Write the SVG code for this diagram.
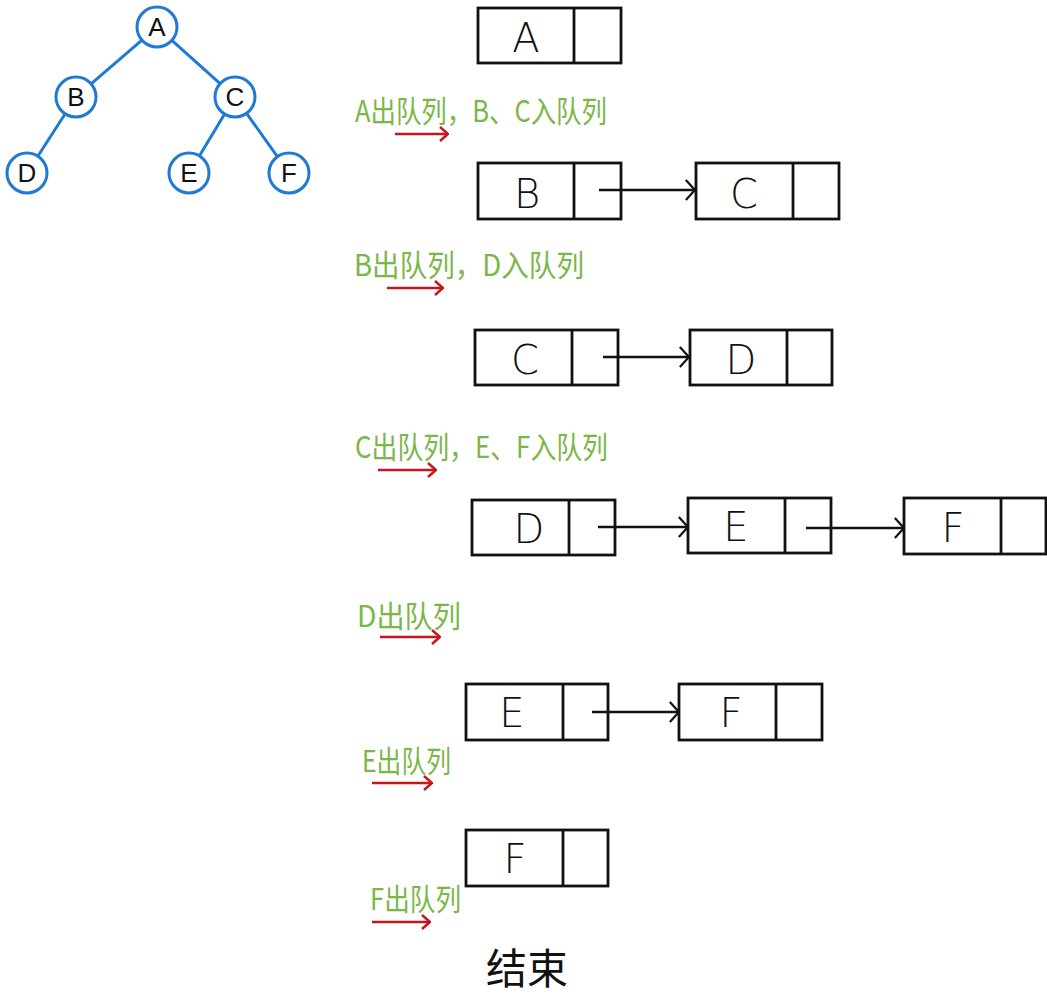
<svg xmlns="http://www.w3.org/2000/svg" width="1047" height="999" viewBox="0 0 1047 999">
<style>
.tn{fill:#fff;stroke:#1f7ad6;stroke-width:3}
.te{stroke:#1f7ad6;stroke-width:3;fill:none}
.tl{font-family:"Liberation Sans","DejaVu Sans",sans-serif;font-size:26px;fill:#111;text-anchor:middle}
.cell{fill:none;stroke:#111;stroke-width:2.8}
.bl{font-family:"DejaVu Sans","Liberation Sans",sans-serif;font-size:40px;fill:#111;text-anchor:middle;font-weight:300}
.qa{stroke:#111;stroke-width:2.4;fill:none}
.ra{stroke:#c8141c;stroke-width:2.4;fill:none}
.gl{font-family:"Noto Sans CJK SC","Noto Sans",sans-serif;font-size:30px;fill:#7ab648}
.end{font-family:"Noto Sans CJK SC","Noto Sans",sans-serif;font-size:42px;fill:#111}
</style>
<defs>
<marker id="ah" viewBox="0 0 12 24" refX="11" refY="12" markerWidth="11" markerHeight="22" markerUnits="userSpaceOnUse" orient="auto">
<path d="M1,1 L11,12 L1,23" fill="none" stroke="#111" stroke-width="2.4"/>
</marker>
<marker id="rh" viewBox="0 0 10 16" refX="9" refY="8" markerWidth="10" markerHeight="16" markerUnits="userSpaceOnUse" orient="auto">
<path d="M1,1 L9,8 L1,15" fill="none" stroke="#c8141c" stroke-width="2.4"/>
</marker>
</defs>
<rect width="1047" height="999" fill="#fff"/>

<g id="tree-A"><circle class="tn" cx="157" cy="27" r="20"/><text class="tl" x="157" y="36">A</text></g>
<g id="tree-B"><circle class="tn" cx="76" cy="97" r="20"/><text class="tl" x="76" y="106">B</text></g>
<g id="tree-C"><circle class="tn" cx="235" cy="97" r="20"/><text class="tl" x="235" y="106">C</text></g>
<g id="tree-D"><circle class="tn" cx="27" cy="173" r="20"/><text class="tl" x="27" y="182">D</text></g>
<g id="tree-E"><circle class="tn" cx="189" cy="173" r="20"/><text class="tl" x="189" y="182">E</text></g>
<g id="tree-F"><circle class="tn" cx="289" cy="173" r="20"/><text class="tl" x="289" y="182">F</text></g>

<g id="q1-A"><rect class="cell" x="478" y="8" width="143" height="55"/><line class="cell" x1="574" y1="8" x2="574" y2="63"/><text class="bl" x="526" y="52">A</text></g>

<g id="q2-B"><rect class="cell" x="478" y="163" width="143" height="56"/><line class="cell" x1="574" y1="163" x2="574" y2="219"/><text class="bl" x="527" y="208">B</text></g>
<g id="q2-C"><rect class="cell" x="696" y="163" width="143" height="56"/><line class="cell" x1="793" y1="163" x2="793" y2="219"/><text class="bl" x="744" y="208">C</text></g>

<g id="q3-C"><rect class="cell" x="475" y="330" width="143" height="55"/><line class="cell" x1="572" y1="330" x2="572" y2="385"/><text class="bl" x="525" y="374">C</text></g>
<g id="q3-D"><rect class="cell" x="690" y="330" width="142" height="55"/><line class="cell" x1="787" y1="330" x2="787" y2="385"/><text class="bl" x="741" y="374">D</text></g>

<g id="q4-D"><rect class="cell" x="472" y="500" width="143" height="55"/><line class="cell" x1="569" y1="500" x2="569" y2="555"/><text class="bl" x="529" y="543">D</text></g>
<g id="q4-E"><rect class="cell" x="688" y="498" width="143" height="55"/><line class="cell" x1="785" y1="498" x2="785" y2="553"/><text class="bl" x="736" y="541">E</text></g>
<g id="q4-F"><rect class="cell" x="904" y="498" width="142" height="56"/><line class="cell" x1="1001" y1="498" x2="1001" y2="554"/><text class="bl" x="953" y="542">F</text></g>

<g id="q5-E"><rect class="cell" x="466" y="684" width="142" height="56"/><line class="cell" x1="563" y1="684" x2="563" y2="740"/><text class="bl" x="512" y="727">E</text></g>
<g id="q5-F"><rect class="cell" x="679" y="684" width="143" height="56"/><line class="cell" x1="776" y1="684" x2="776" y2="740"/><text class="bl" x="731" y="727">F</text></g>

<g id="q6-F"><rect class="cell" x="466" y="830" width="142" height="56"/><line class="cell" x1="563" y1="830" x2="563" y2="886"/><text class="bl" x="515" y="873">F</text></g>

<g id="connectors">
<line class="te" x1="141.9" y1="40.1" x2="91.1" y2="83.9"/>
<line class="te" x1="171.9" y1="40.4" x2="220.1" y2="83.6"/>
<line class="te" x1="65.2" y1="113.8" x2="37.8" y2="156.2"/>
<line class="te" x1="224.6" y1="114.1" x2="199.4" y2="155.9"/>
<line class="te" x1="246.6" y1="113.3" x2="277.4" y2="156.7"/>
<line class="qa" x1="599" y1="190" x2="695" y2="190" marker-end="url(#ah)"/>
<line class="qa" x1="603" y1="357" x2="689" y2="357" marker-end="url(#ah)"/>
<line class="qa" x1="598" y1="527" x2="688" y2="527" marker-end="url(#ah)"/>
<line class="qa" x1="806" y1="528" x2="904" y2="528" marker-end="url(#ah)"/>
<line class="qa" x1="592" y1="712" x2="679" y2="712" marker-end="url(#ah)"/>
<line class="ra" x1="395" y1="134" x2="448" y2="134" marker-end="url(#rh)"/>
<line class="ra" x1="387" y1="288" x2="443" y2="288" marker-end="url(#rh)"/>
<line class="ra" x1="378" y1="470" x2="436" y2="470" marker-end="url(#rh)"/>
<line class="ra" x1="380" y1="637" x2="440" y2="637" marker-end="url(#rh)"/>
<line class="ra" x1="372" y1="783" x2="432" y2="783" marker-end="url(#rh)"/>
<line class="ra" x1="372" y1="922" x2="430" y2="922" marker-end="url(#rh)"/>
</g>

<g id="labels">
<text class="gl" x="355" y="122" textLength="252" lengthAdjust="spacingAndGlyphs">A出队列，B、C入队列</text>
<text class="gl" x="354" y="276" textLength="230" lengthAdjust="spacingAndGlyphs">B出队列，D入队列</text>
<text class="gl" x="355" y="458" textLength="253" lengthAdjust="spacingAndGlyphs">C出队列，E、F入队列</text>
<text class="gl" x="357" y="627" textLength="104" lengthAdjust="spacingAndGlyphs">D出队列</text>
<text class="gl" x="362" y="772" textLength="89" lengthAdjust="spacingAndGlyphs">E出队列</text>
<text class="gl" x="370" y="910" textLength="91" lengthAdjust="spacingAndGlyphs">F出队列</text>
<text class="end" x="486" y="984" textLength="82" lengthAdjust="spacingAndGlyphs">结束</text>
</g>
</svg>
